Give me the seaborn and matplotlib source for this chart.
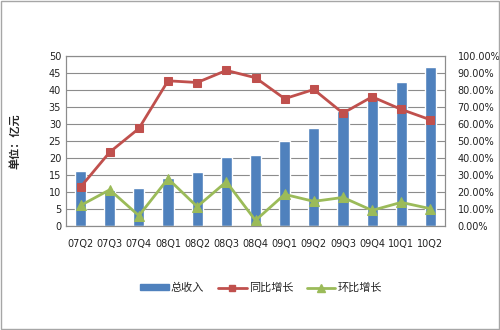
import numpy as np
import pandas as pd
import matplotlib
matplotlib.use("Agg")
import matplotlib.pyplot as plt
import seaborn as sns
from matplotlib.patches import Rectangle, Patch
from matplotlib.lines import Line2D
from matplotlib.ticker import FuncFormatter, MultipleLocator

quarters = ["07Q2", "07Q3", "07Q4", "08Q1", "08Q2", "08Q3", "08Q4",
            "09Q1", "09Q2", "09Q3", "09Q4", "10Q1", "10Q2"]
revenue = [16.2, 10.5, 11.2, 14.2, 15.8, 20.3, 21.0, 25.0, 28.8, 33.8, 38.0, 42.4, 46.6]
yoy = [22.9, 43.4, 57.3, 85.3, 84.3, 91.4, 87.1, 74.8, 80.2, 66.3, 75.9, 68.5, 62.4]
qoq = [12.1, 21.3, 6.1, 27.8, 11.4, 26.0, 3.3, 18.6, 14.5, 16.8, 9.2, 13.9, 10.2]
series_names = ["总收入", "同比增长", "环比增长"]
ylabel = "单位：亿元"

sns.set_theme(style="white")
plt.rcParams["font.family"] = ["DejaVu Sans", "Noto Sans CJK SC"]

BLUE = "#4F81BD"
RED = "#C0504D"
GREEN = "#9BBB59"
GRID = "#8C8C8C"

df = pd.DataFrame({"q": quarters, "rev": revenue, "yoy": yoy, "qoq": qoq})
df["pos"] = np.arange(len(df))

fig = plt.figure(figsize=(5, 3.3), dpi=100)
ax = fig.add_axes([0.132, 0.315, 0.758, 0.516])

sns.barplot(data=df, x="q", y="rev", color=BLUE, saturation=1, width=0.38, ax=ax, zorder=2)
ax.set_ylim(0, 50)
ax.yaxis.set_major_locator(MultipleLocator(5))
ax.grid(axis="y", color=GRID, linewidth=0.8, zorder=0)
ax.set_axisbelow(True)
ax.set_xlabel("")
ax.set_ylabel(ylabel, family=["Noto Sans CJK SC", "DejaVu Sans"], fontsize=8,
              fontweight="bold", labelpad=20)
ax.set_xlim(-0.5, len(quarters) - 0.5)
ax.tick_params(axis="both", labelsize=7, length=0, colors="#222222")
ax.tick_params(axis="x", pad=9)
ax.set_xticks(np.arange(-0.5, len(quarters) + 0.5, 1), minor=True)
ax.tick_params(axis="x", which="minor", direction="in", length=3, color=GRID)

ax2 = ax.twinx()
sns.lineplot(data=df, x="pos", y="yoy", color=RED, marker="s", markersize=6,
             markeredgecolor=RED, linewidth=2, ax=ax2, zorder=4)
sns.lineplot(data=df, x="pos", y="qoq", color=GREEN, marker="^", markersize=7,
             markeredgecolor=GREEN, linewidth=2, ax=ax2, zorder=3)
ax2.set_ylim(0, 100)
ax2.yaxis.set_major_locator(MultipleLocator(10))
ax2.yaxis.set_major_formatter(FuncFormatter(lambda v, p: f"{v:.2f}%"))
ax2.set_ylabel("")
ax2.set_xlabel("")
ax2.tick_params(axis="y", labelsize=7, length=0, colors="#222222", pad=9)
ax2.grid(False)
ax.set_xlim(-0.5, len(quarters) - 0.5)

for a in (ax, ax2):
    for s in a.spines.values():
        s.set_color(GRID)
        s.set_linewidth(0.8)

handles = [
    Patch(facecolor=BLUE, edgecolor=BLUE),
    Line2D([0], [0], color=RED, marker="s", markersize=5, linewidth=2),
    Line2D([0], [0], color=GREEN, marker="^", markersize=6, linewidth=2),
]
fig.legend(handles, series_names, loc="center", bbox_to_anchor=(0.522, 0.127),
           ncol=3, frameon=False, prop={"family": ["Noto Sans CJK SC", "DejaVu Sans"], "size": 8},
           handlelength=2.6, handleheight=0.5, columnspacing=1.2, handletextpad=0.2)

fig.patches.append(Rectangle((0.002, 0.003), 0.996, 0.994, transform=fig.transFigure,
                             fill=False, edgecolor="#A6A6A6", linewidth=1))

fig.savefig("out.png", dpi=100)
